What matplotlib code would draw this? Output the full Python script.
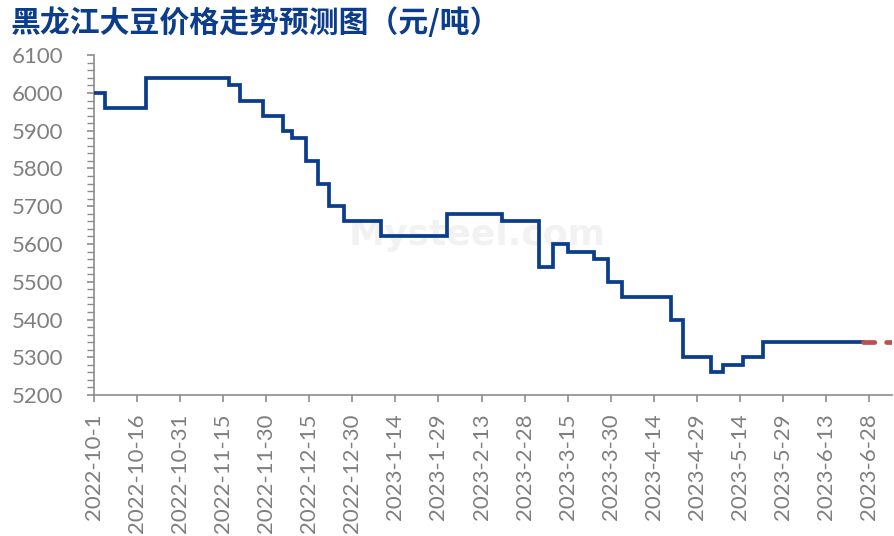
import matplotlib
matplotlib.use('Agg')
import matplotlib.pyplot as plt
import matplotlib.dates as mdates
from matplotlib.ticker import MultipleLocator, FixedLocator
import pandas as pd

# price change points (step line), yuan/ton
hist_dates = ['2022-10-01', '2022-10-05', '2022-10-19', '2022-11-17', '2022-11-21',
              '2022-11-29', '2022-12-06', '2022-12-09', '2022-12-14', '2022-12-18',
              '2022-12-22', '2022-12-27', '2023-01-09', '2023-02-01', '2023-02-20',
              '2023-03-05', '2023-03-10', '2023-03-15', '2023-03-24', '2023-03-29',
              '2023-04-03', '2023-04-20', '2023-04-24', '2023-05-04', '2023-05-08',
              '2023-05-15', '2023-05-22', '2023-06-26']
hist_values = [6000, 5960, 6040, 6020, 5980, 5940, 5900, 5880, 5820, 5760,
               5700, 5660, 5620, 5680, 5660, 5540, 5600, 5580, 5560, 5500,
               5460, 5400, 5300, 5260, 5280, 5300, 5340, 5340]
# forecast
fc_dates = ['2023-06-26', '2023-07-08']
fc_values = [5340, 5340]

title = '黑龙江大豆价格走势预测图（元/吨）'
navy = '#0B3D8C'
red = '#C0504D'
grey = '#8C8C8C'

fig = plt.figure(figsize=(8.94, 5.36), dpi=100)
ax = fig.add_axes([0.105, 0.263, 0.893, 0.634])
ax.patch.set_alpha(0)

ax.plot(pd.to_datetime(hist_dates), hist_values, color=navy, lw=2.7,
        drawstyle='steps-post', solid_joinstyle='miter', zorder=3)
ax.plot(pd.to_datetime(fc_dates), fc_values, color=red, lw=3.4,
        linestyle=(0, (2.4, 2.5)), dash_capstyle='round', zorder=4)

ax.set_ylim(5200, 6100)
ax.yaxis.set_major_locator(MultipleLocator(100))
ax.yaxis.set_minor_locator(MultipleLocator(20))
ax.set_xlim(pd.Timestamp('2022-10-01'), pd.Timestamp('2023-07-06'))

ticks = pd.date_range('2022-10-01', '2023-06-28', freq='15D')
ax.xaxis.set_major_locator(FixedLocator(mdates.date2num(ticks)))
ax.set_xticklabels([f'{t.year}-{t.month}-{t.day}' for t in ticks], rotation=90)

for s in ['top', 'right']:
    ax.spines[s].set_visible(False)
for s in ['left', 'bottom']:
    ax.spines[s].set_color(grey)
    ax.spines[s].set_linewidth(1.2)

ax.tick_params(axis='both', which='both', colors=grey, labelcolor='#7F7F7F',
               direction='out', labelsize=16)
ax.tick_params(axis='x', which='major', length=5, width=1.2, pad=8)
ax.tick_params(axis='y', which='major', length=5, width=1.2, pad=17)
ax.tick_params(axis='y', which='minor', length=5, width=1.0)
for lab in ax.get_xticklabels() + ax.get_yticklabels():
    lab.set_family('Lato')

# faint watermark, behind the line
ax.text(0.48, 0.47, 'Mysteel.com', fontsize=26, fontweight='bold',
        color='#F2F2F2', ha='center', va='center', transform=ax.transAxes, zorder=0)

fig.text(0.012, 0.957, title, fontsize=21.5, fontweight='bold', color=navy,
         family=['Noto Sans CJK SC', 'DejaVu Sans'], ha='left', va='center')

fig.savefig('out.png', dpi=100)
